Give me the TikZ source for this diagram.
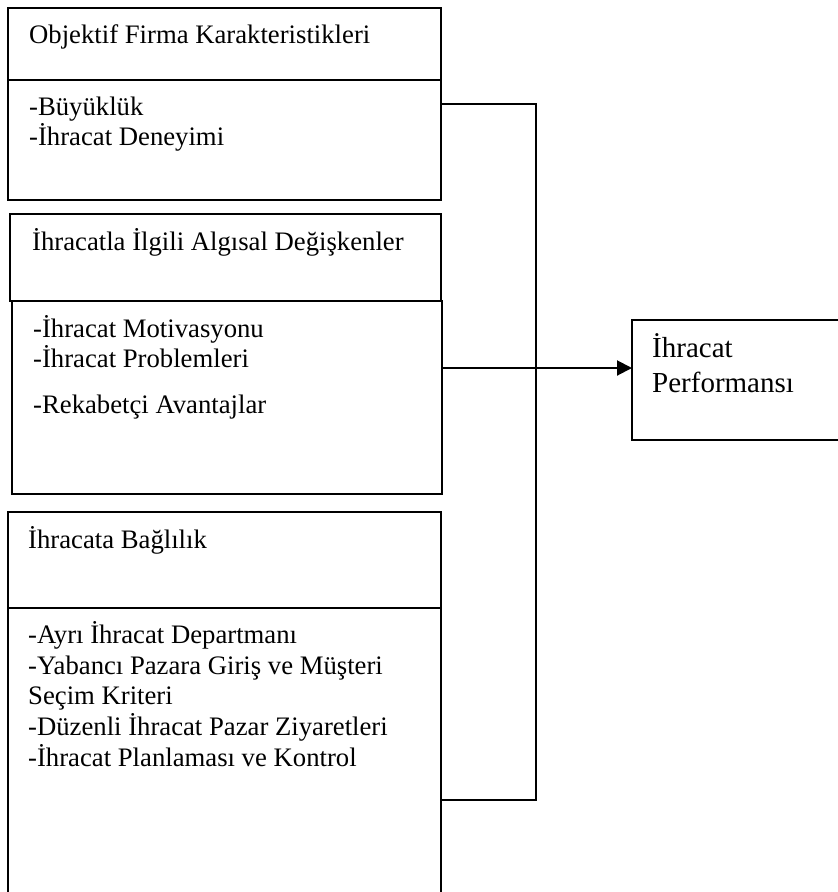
\documentclass[tikz,border=0pt]{standalone}
\usepackage{fontspec}
\setmainfont{Liberation Serif}
\usetikzlibrary{arrows.meta,calc}

\newcommand{\bodyfont}{\fontsize{26.7}{30.7}\selectfont}
\newcommand{\perffont}{\fontsize{29}{34.5}\selectfont}

\tikzset{
  panel/.style={draw, line width=2pt, rectangle, anchor=north west,
                inner sep=0pt, outer sep=0pt},
  lbl/.style={anchor=base west, inner sep=0pt, font=\bodyfont},
  plbl/.style={anchor=base west, inner sep=0pt, font=\perffont},
  conn/.style={line width=2pt},
  flow/.style={line width=2pt, -{Triangle[length=15pt,width=15pt]}}
}

\begin{document}
\begin{tikzpicture}[x=1pt, y=-1pt]
  \path[use as bounding box, clip] (0,0) rectangle (838,892);

  % firm characteristics
  \node[panel, minimum width=433pt, minimum height=72pt]  (b1h) at (8,8) {};
  \node[panel, minimum width=433pt, minimum height=120pt] (b1b) at (8,80) {};
  % perceptual variables
  \node[panel, minimum width=431pt, minimum height=87pt]  (b2h) at (10,214) {};
  \node[panel, minimum width=430pt, minimum height=193pt] (b2b) at (12,301) {};
  % export commitment
  \node[panel, minimum width=433pt, minimum height=96pt]  (b3h) at (8,512) {};
  \node[panel, minimum width=433pt, minimum height=300pt] (b3b) at (8,608) {};
  % outcome
  \node[panel, minimum width=230pt, minimum height=120pt] (perf) at (632,320) {};

  % texts
  \node[lbl] (t1)  at (29,43)  {Objektif Firma Karakteristikleri};
  \node[lbl] (t2)  at (29,115) {-Büyüklük};
  \node[lbl] (t3)  at (29,145) {-İhracat Deneyimi};

  \node[lbl] (t4)  at (32,250) {İhracatla İlgili Algısal Değişkenler};
  \node[lbl] (t5)  at (33,337) {-İhracat Motivasyonu};
  \node[lbl] (t6)  at (33,367) {-İhracat Problemleri};
  \node[lbl] (t7)  at (33,413) {-Rekabetçi Avantajlar};

  \node[lbl] (t8)  at (28,548) {İhracata Bağlılık};
  \node[lbl] (t9)  at (28,643) {-Ayrı İhracat Departmanı};
  \node[lbl] (t10) at (28,674) {-Yabancı Pazara Giriş ve Müşteri};
  \node[lbl] (t11) at (28,704) {Seçim Kriteri};
  \node[lbl] (t12) at (28,735) {-Düzenli İhracat Pazar Ziyaretleri};
  \node[lbl] (t13) at (28,766) {-İhracat Planlaması ve Kontrol};

  \node[plbl] (t14) at (652,357) {İhracat};
  \node[plbl] (t15) at (652,392) {Performansı};

  % connectors
  \coordinate (j1) at (536,104);
  \coordinate (j2) at (536,800);
  \coordinate (ar) at (0,368);
  \draw[conn] (b1b.east |- j1) -- (j1) -- (j2) -- (b3b.east |- j2);
  \draw[flow] (b2b.east |- ar) -- (perf.west |- ar);
\end{tikzpicture}
\end{document}
